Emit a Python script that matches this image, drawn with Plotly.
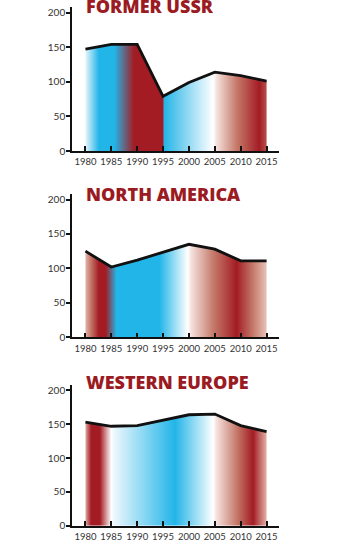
import plotly.graph_objects as go

years = [1980, 1985, 1990, 1995, 2000, 2005, 2010, 2015]
ussr = [147, 154, 154, 79, 99, 114, 109, 101]
north_america = [125, 102, 112, 123, 135, 128, 111, 111]
western_europe = [153, 147, 148, 156, 164, 165, 148, 139]
titles = ["FORMER USSR", "NORTH AMERICA", "WESTERN EUROPE"]
y_ticks = [0, 50, 100, 150, 200]

BLUE = "#22b5e8"
RED = "#a31c24"
WHITE = "#ffffff"
PINK = "#f5e2de"
MID = "#c57a6a"
TITLE_RED = "#9b1b22"

# gradient stops by year (horizontal fill), turned into 0..1 colorscales
STOPS = [
    [(1980, "#e6f5fc"), (1982.6, BLUE), (1985.6, BLUE), (1989.4, RED), (1995.0, RED),
     (1995.15, BLUE), (1997.5, "#5cc6ec"), (2004.7, WHITE), (2005.3, PINK),
     (2009.2, MID), (2013.6, RED), (2015, "#b8504a")],
    [(1980, "#e4b3a9"), (1981.0, MID), (1982.6, RED), (1983.9, RED), (1986.0, BLUE),
     (1994.3, BLUE), (1999.8, WHITE), (2000.4, PINK), (2004.7, MID), (2009.2, RED),
     (2012.4, MID), (2015, "#e8c2b9")],
    [(1980, "#e0aaa0"), (1981.1, RED), (1982.8, RED), (1985.0, WHITE), (1985.4, "#eef8fd"),
     (1997.3, BLUE), (2004.7, WHITE), (2005.3, PINK), (2009.2, MID), (2012.4, RED),
     (2015, "#e2b0a6")],
]

series = [ussr, north_america, western_europe]
# pixel rows of each panel (top, bottom) in the 540 px page
panel_px = [(7, 151), (194, 337.3), (385, 525.7)]
title_px = [6, 193.5, 381.5]
W, H = 340, 540

fig = go.Figure()
for i, (vals, stops) in enumerate(zip(series, STOPS)):
    n = "" if i == 0 else str(i + 1)
    lo, hi = years[0], years[-1]
    cs = [[(yr - lo) / (hi - lo), c] for yr, c in stops]
    fig.add_trace(go.Scatter(
        x=years, y=vals, mode="lines", fill="tozeroy",
        fillgradient=dict(type="horizontal", colorscale=cs, start=lo, stop=hi),
        line=dict(color="#111111", width=2.8),
        xaxis="x" + n, yaxis="y" + n, showlegend=False, hoverinfo="skip",
    ))
    top, bot = panel_px[i]
    fig.update_layout(**{
        "xaxis" + n: dict(
            domain=[72 / W, 279 / W], range=[1977.4, 2017.4], anchor="y" + n,
            tickvals=years, tickangle=0, ticks="inside", ticklen=5, tickwidth=1.5,
            ticklabelstandoff=1, layer="above traces",
            tickcolor="#111", showline=True, linecolor="#111", linewidth=1.6,
            showgrid=False, zeroline=False, automargin=False,
            tickfont=dict(family="Lato", size=9.5, color="#333"),
        ),
        "yaxis" + n: dict(
            domain=[1 - bot / H, 1 - top / H], range=[0, 208], anchor="x" + n,
            tickvals=y_ticks, ticks="outside", ticklen=4, tickwidth=1.5,
            ticklabelstandoff=-1,
            tickcolor="#111", showline=True, linecolor="#111", linewidth=1.6,
            showgrid=False, zeroline=False, automargin=False,
            tickfont=dict(family="Lato", size=10, color="#333"),
        ),
    })
    fig.add_annotation(
        text=titles[i], xref="paper", yref="paper", x=84 / W, y=1 - title_px[i] / H,
        xanchor="left", yanchor="middle", showarrow=False,
        font=dict(family="Open Sans", size=18, color=TITLE_RED, weight=800),
    )

fig.update_layout(
    width=W, height=H, margin=dict(l=0, r=0, t=0, b=0),
    paper_bgcolor="white", plot_bgcolor="white",
)
# drop the default 8px body margin so the figure sits at the page corner
fig.write_html("out.html", config={"displayModeBar": False},
               post_script="document.body.style.margin='0';")
